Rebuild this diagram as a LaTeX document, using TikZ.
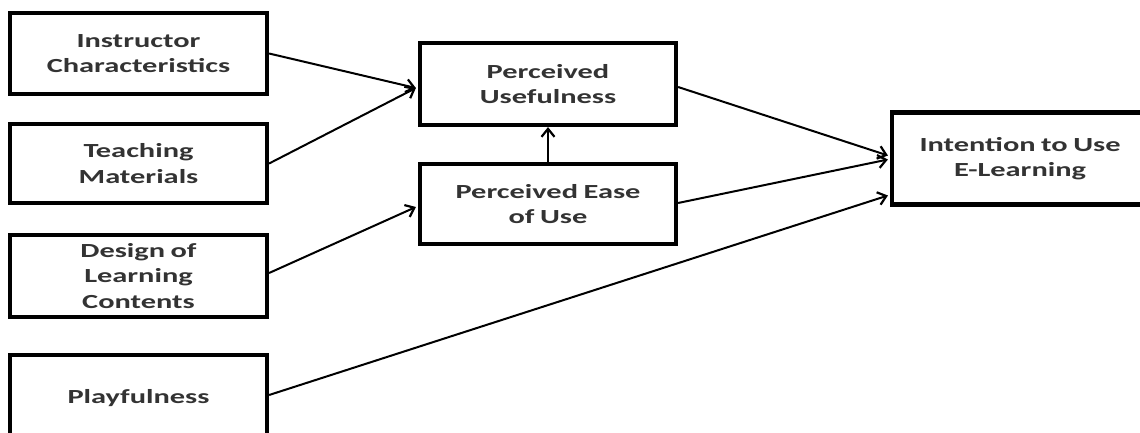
\documentclass[tikz,border=0pt]{standalone}
\usepackage{fontspec}
\newfontfamily\carl[FakeStretch=1.52,WordSpace=0.8]{Carlito}
\usetikzlibrary{arrows.meta,calc}
\begin{document}
\begin{tikzpicture}[x=1pt,y=-1pt,
  box/.style={draw=black,line width=4.2pt,inner sep=0pt,align=center,
    font=\carl\bfseries\fontsize{20}{25.5}\selectfont,text=black!80},
  conn/.style={line width=2pt,-{Straight Barb[length=8pt,width=13pt,line width=2.2pt]}}]
\useasboundingbox (0,0) rectangle (1140,433);
\clip (0,0) rectangle (1140,433);
\fill[white] (0,0) rectangle (1140,433);
\node[box,minimum width=257pt,minimum height=81pt] (ic) at (138.5,53.5) {Instructor\\Characteristics};
\node[box,minimum width=257pt,minimum height=79pt] (tm) at (138.5,163.5) {Teaching\\Materials};
\node[box,minimum width=257pt,minimum height=82pt] (dl) at (138.5,276) {Design of\\Learning\\Contents};
\node[box,minimum width=257pt,minimum height=86pt] (pf) at (138.5,398) {Playfulness};
\node[box,minimum width=256pt,minimum height=82pt] (pu) at (548,84) {Perceived\\Usefulness};
\node[box,minimum width=256pt,minimum height=80pt] (pe) at (548,204) {Perceived Ease\\of Use};
\node[box,minimum width=256pt,minimum height=92pt] (iu) at (1020,158.5) {Intention to Use\\E-Learning};
\draw[conn] (ic.east) -- ($(pu.west)+(-2,4)$);
\draw[conn] (tm.east) -- ($(pu.west)+(-2,4)$);
\draw[conn] ($(dl.east)+(0,-3)$) -- ($(pe.west)+(-2,3)$);
\draw[conn] ($(pf.east)+(0,-3)$) -- ($(iu.west)+(-2,37)$);
\draw[conn] ($(pu.east)+(0,3)$) -- ($(iu.west)+(-2,-3)$);
\draw[conn] ($(pe.east)+(0,-1)$) -- ($(iu.west)+(-2,1)$);
\draw[conn] (pe.north) -- (pu.south);
\end{tikzpicture}
\end{document}
